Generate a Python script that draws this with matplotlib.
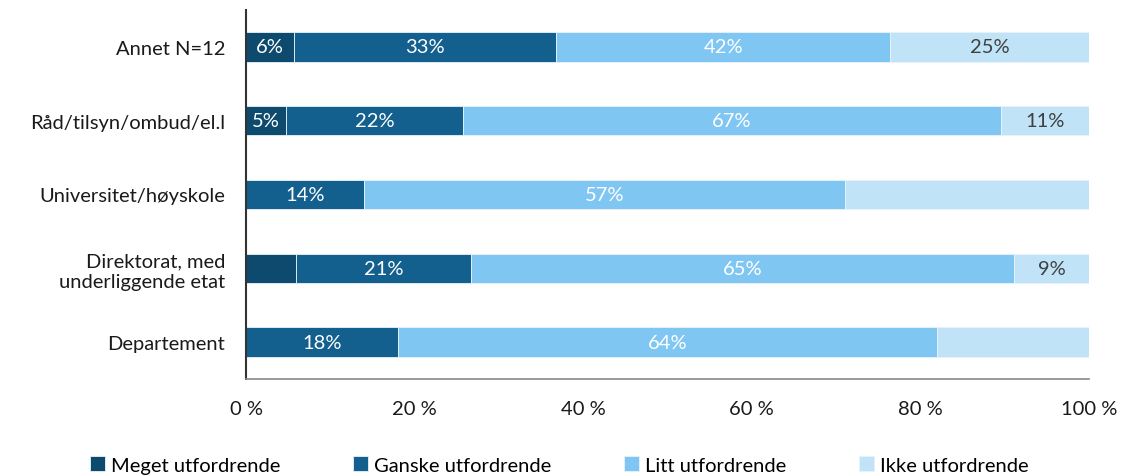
import matplotlib
matplotlib.use("Agg")
import matplotlib.pyplot as plt
import numpy as np

plt.rcParams['font.family'] = ['Lato', 'DejaVu Sans']

categories = ["Annet N=12", "Råd/tilsyn/ombud/el.l", "Universitet/høyskole",
              "Direktorat, med\nunderliggende etat", "Departement"]
series_names = ["Meget utfordrende", "Ganske utfordrende", "Litt utfordrende", "Ikke utfordrende"]
meget = [6, 5, 0, 6, 0]
ganske = [33, 22, 14, 21, 18]
litt = [42, 67, 57, 65, 64]
ikke = [25, 11, 29, 9, 18]
# which data labels are printed (per series, per category)
show_meget = [True, True, False, False, False]
show_ganske = [True, True, True, True, True]
show_litt = [True, True, True, True, True]
show_ikke = [True, True, False, True, False]
xticks = [0, 20, 40, 60, 80, 100]

colors = ["#0e4a6e", "#135f8e", "#80c6f2", "#c0e3f7"]
label_colors = ["white", "white", "white", "#404040"]
fs = 14.5

data = np.array([meget, ganske, litt, ikke], dtype=float)
shows = [show_meget, show_ganske, show_litt, show_ikke]
totals = data.sum(axis=0)
shares = data / totals * 100

fig = plt.figure(figsize=(11.26, 4.77), dpi=100)
ax = fig.add_axes([246 / 1126, 1 - 380 / 477, (1089 - 246) / 1126, (380 - 11) / 477])

y = np.arange(len(categories))
left = np.zeros(len(categories))
for i, name in enumerate(series_names):
    ax.barh(y, shares[i], left=left, height=0.4, color=colors[i],
            edgecolor="#e8f3fb", linewidth=0.6, label=name)
    for j in range(len(categories)):
        if shows[i][j] and data[i, j] > 0:
            ax.text(left[j] + shares[i, j] / 2, y[j], f"{int(data[i, j])}%",
                    ha="center", va="center", color=label_colors[i], fontsize=fs)
    left += shares[i]

ax.set_xlim(0, 100)
ax.set_ylim(len(categories) - 0.5, -0.5)
ax.set_yticks(y)
ax.set_yticklabels(categories, fontsize=fs, color="#1a1a1a", linespacing=1.25)
ax.set_xticks(xticks)
ax.set_xticklabels([f"{t} %" for t in xticks], fontsize=fs, color="#1a1a1a")
ax.tick_params(axis="both", length=0)
ax.tick_params(axis="y", pad=15)
ax.tick_params(axis="x", pad=15)
for s in ["top", "right"]:
    ax.spines[s].set_visible(False)
ax.spines["left"].set_color("#333333")
ax.spines["left"].set_linewidth(1.5)
ax.spines["bottom"].set_color("#888888")
ax.spines["bottom"].set_linewidth(1.2)

handles, labels = ax.get_legend_handles_labels()
fig.legend(handles, labels, loc="center", bbox_to_anchor=(0.497, 1 - 466 / 477), ncol=4,
           frameon=False, fontsize=fs, handlelength=0.75, handleheight=0.75,
           handletextpad=0.3, columnspacing=3.6)

fig.savefig("out.png", dpi=100)
